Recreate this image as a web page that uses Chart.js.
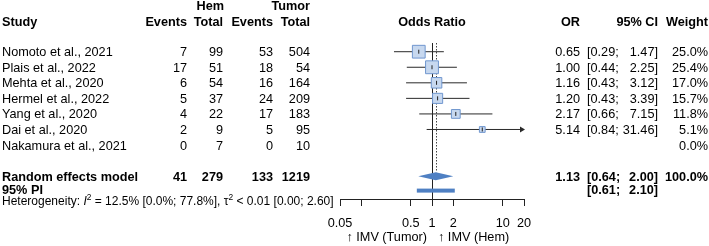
<!DOCTYPE html>
<html>
<head>
<meta charset="utf-8">
<script src="https://cdn.jsdelivr.net/npm/chart.js@4.4.1/dist/chart.umd.min.js"></script>
<style>
  html, body { margin: 0; padding: 0; background: #fff; }
  #wrap { width: 709px; height: 246px; }
</style>
</head>
<body>
<div id="wrap"><canvas id="forestPlot"></canvas></div>
<script>
// study level data
const studies = ['Nomoto et al., 2021', 'Plais et al., 2022', 'Mehta et al., 2020', 'Hermel et al., 2022',
                 'Yang et al., 2020', 'Dai et al., 2020', 'Nakamura et al., 2021'];
const hemEvents = [7, 17, 6, 5, 4, 2, 0];
const hemTotal = [99, 51, 54, 37, 22, 9, 7];
const tumorEvents = [53, 18, 16, 24, 17, 5, 0];
const tumorTotal = [504, 54, 164, 209, 183, 95, 10];
const oddsRatios = [0.65, 1.00, 1.16, 1.20, 2.17, 5.14, null];
const ciLower = [0.29, 0.44, 0.43, 0.43, 0.66, 0.84, null];
const ciUpper = [1.47, 2.25, 3.12, 3.39, 7.15, 31.46, null];
const weights = [25.0, 25.4, 17.0, 15.7, 11.8, 5.1, 0.0];

// pooled estimate
const pooledTotals = [41, 279, 133, 1219];
const pooledOR = 1.13;
const pooledCI = [0.64, 2.00];
const predInterval = [0.61, 2.10];

// axis
const tickValues = [0.05, 0.1, 0.5, 1, 2, 10, 20];
const tickLabels = ['0.05', '', '0.5', '1', '2', '10', '20'];

const FONT = '"Liberation Sans", Arial, Helvetica, sans-serif';
const FS = 12.7;
const pooledRow = 8;
const piRow = 8.93;
const boxFill = '#c7d8ef';
const boxLine = '#7097cf';
const blue = '#4f80c3';

const fmt2 = v => v.toFixed(2);

const boxPoints = [];
const boxRadii = [];
oddsRatios.forEach((v, i) => {
    if (v === null) return;
    boxPoints.push({ x: v, y: i });
    boxRadii.push(2.55 * Math.sqrt(weights[i]) / Math.SQRT2);
});

const forestPlugin = {
    id: 'forest',
    beforeDatasetsDraw(chart) {
        const { ctx, chartArea, scales: { x, y } } = chart;
        ctx.save();
        // line of no effect
        ctx.strokeStyle = '#222';
        ctx.lineWidth = 1;
        ctx.beginPath();
        ctx.moveTo(Math.round(x.getPixelForValue(1)) + 0.5, chartArea.top);
        ctx.lineTo(Math.round(x.getPixelForValue(1)) + 0.5, chartArea.bottom);
        ctx.stroke();
        // pooled estimate dotted line
        ctx.setLineDash([1.5, 1.5]);
        ctx.strokeStyle = '#444';
        ctx.beginPath();
        ctx.moveTo(Math.round(x.getPixelForValue(pooledOR)) + 0.5, chartArea.top);
        ctx.lineTo(Math.round(x.getPixelForValue(pooledOR)) + 0.5, y.getPixelForValue(pooledRow) - 4);
        ctx.stroke();
        ctx.setLineDash([]);
        // confidence intervals
        ctx.strokeStyle = '#2a2a2a';
        ctx.fillStyle = '#2a2a2a';
        oddsRatios.forEach((v, i) => {
            if (v === null) return;
            const py = y.getPixelForValue(i);
            const lo = Math.max(ciLower[i], x.min);
            const hi = Math.min(ciUpper[i], x.max);
            const x0 = x.getPixelForValue(lo);
            const x1 = x.getPixelForValue(hi);
            ctx.beginPath();
            ctx.moveTo(x0, py);
            ctx.lineTo(x1, py);
            ctx.stroke();
            if (ciUpper[i] > x.max) {
                ctx.beginPath();
                ctx.moveTo(x1 + 1, py);
                ctx.lineTo(x1 - 4, py - 3);
                ctx.lineTo(x1 - 4, py + 3);
                ctx.closePath();
                ctx.fill();
            }
        });
        ctx.restore();
    },
    afterDatasetsDraw(chart) {
        const { ctx, scales: { x, y } } = chart;
        ctx.save();
        // point estimate marks inside boxes
        ctx.strokeStyle = '#222';
        ctx.lineWidth = 1;
        oddsRatios.forEach((v, i) => {
            if (v === null) return;
            const px = x.getPixelForValue(v);
            const py = y.getPixelForValue(i);
            ctx.beginPath();
            ctx.moveTo(px, py - 2);
            ctx.lineTo(px, py + 2);
            ctx.stroke();
        });
        // diamond
        const dy = y.getPixelForValue(pooledRow);
        ctx.fillStyle = blue;
        ctx.beginPath();
        ctx.moveTo(x.getPixelForValue(pooledCI[0]), dy);
        ctx.lineTo(x.getPixelForValue(pooledOR), dy - 4);
        ctx.lineTo(x.getPixelForValue(pooledCI[1]), dy);
        ctx.lineTo(x.getPixelForValue(pooledOR), dy + 4);
        ctx.closePath();
        ctx.fill();
        // prediction interval
        const py = y.getPixelForValue(piRow);
        const p0 = x.getPixelForValue(predInterval[0]);
        const p1 = x.getPixelForValue(predInterval[1]);
        ctx.fillRect(p0, py - 2, p1 - p0, 4);
        ctx.restore();
    },
    afterDraw(chart) {
        const { ctx, scales: { x, y } } = chart;
        const base = row => y.getPixelForValue(row) + 4.5;
        const put = (s, px, py, align, bold, size) => {
            ctx.font = (bold ? 'bold ' : '') + (size || FS) + 'px ' + FONT;
            ctx.textAlign = align;
            ctx.fillText(s, px, py);
        };
        ctx.save();
        ctx.fillStyle = '#000';
        ctx.textBaseline = 'alphabetic';

        // headers
        put('Hem', 224, 10, 'right', true);
        put('Tumor', 310, 10, 'right', true);
        put('Study', 2, 26, 'left', true);
        put('Events', 187, 26, 'right', true);
        put('Total', 223, 26, 'right', true);
        put('Events', 273, 26, 'right', true);
        put('Total', 310, 26, 'right', true);
        put('Odds Ratio', (chart.chartArea.left + chart.chartArea.right) / 2, 26, 'center', true);
        put('OR', 580, 26, 'right', true);
        put('95% CI', 658, 26, 'right', true);
        put('Weight', 708, 26, 'right', true);

        // study rows
        studies.forEach((name, i) => {
            const by = base(i);
            put(name, 2, by, 'left');
            put(String(hemEvents[i]), 187, by, 'right');
            put(String(hemTotal[i]), 223, by, 'right');
            put(String(tumorEvents[i]), 273, by, 'right');
            put(String(tumorTotal[i]), 310, by, 'right');
            if (oddsRatios[i] !== null) {
                put(fmt2(oddsRatios[i]), 580, by, 'right');
                put('[' + fmt2(ciLower[i]) + ';', 587, by, 'left');
                put(fmt2(ciUpper[i]) + ']', 658, by, 'right');
            }
            put(weights[i].toFixed(1) + '%', 708, by, 'right');
        });

        // pooled row
        let by = base(pooledRow);
        put('Random effects model', 2, by, 'left', true);
        put(String(pooledTotals[0]), 187, by, 'right', true);
        put(String(pooledTotals[1]), 223, by, 'right', true);
        put(String(pooledTotals[2]), 273, by, 'right', true);
        put(String(pooledTotals[3]), 310, by, 'right', true);
        put(fmt2(pooledOR), 580, by, 'right', true);
        put('[' + fmt2(pooledCI[0]) + ';', 587, by, 'left', true);
        put(fmt2(pooledCI[1]) + ']', 658, by, 'right', true);
        put('100.0%', 708, by, 'right', true);

        by = base(piRow) - 1;
        put('95% PI', 2, by, 'left', true);
        put('[' + fmt2(predInterval[0]) + ';', 587, by, 'left', true);
        put(fmt2(predInterval[1]) + ']', 658, by, 'right', true);

        // heterogeneity
        const hs = 12.0;
        let hx = 2;
        const hy = 204.5;
        const seg = (s, style, size, rise) => {
            ctx.font = (style || '') + ' ' + size + 'px ' + FONT;
            ctx.textAlign = 'left';
            ctx.fillText(s, hx, hy - (rise || 0));
            hx += ctx.measureText(s).width;
        };
        seg('Heterogeneity: ', '', hs);
        seg('I', 'italic', hs);
        seg('2', '', hs * 0.7, 4.5);
        seg(' = 12.5% [0.0%; 77.8%], \u03c4', '', hs);
        seg('2', '', hs * 0.7, 4.5);
        seg(' < 0.01 [0.00; 2.60]', '', hs);

        // direction labels
        const x1 = x.getPixelForValue(1);
        put('\u2191 IMV (Tumor)', x1 - 5, 240.5, 'right');
        put('\u2191 IMV (Hem)', x1 + 6, 240.5, 'left');
        ctx.restore();
    }
};

new Chart(document.getElementById('forestPlot').getContext('2d'), {
    type: 'scatter',
    data: {
        datasets: [{
            data: boxPoints,
            pointStyle: 'rect',
            pointRadius: boxRadii,
            pointHoverRadius: boxRadii,
            backgroundColor: boxFill,
            borderColor: boxLine,
            borderWidth: 1
        }]
    },
    options: {
        responsive: true,
        maintainAspectRatio: false,
        animation: false,
        events: [],
        layout: { padding: { left: 340, right: 185, top: 43, bottom: 0 } },
        plugins: { legend: { display: false }, tooltip: { enabled: false } },
        scales: {
            x: {
                type: 'logarithmic',
                min: 0.05,
                max: 20,
                afterBuildTicks: scale => { scale.ticks = tickValues.map(v => ({ value: v })); },
                afterFit: scale => { scale.height = 47; },
                grid: { drawOnChartArea: false, drawTicks: true, tickLength: 7, color: '#222', lineWidth: 1 },
                border: { display: true, color: '#222', width: 1 },
                ticks: {
                    autoSkip: false,
                    maxRotation: 0,
                    padding: 10,
                    color: '#000',
                    font: { family: FONT, size: FS },
                    callback: (value, index) => tickLabels[index]
                }
            },
            y: { type: 'linear', display: false, reverse: true, min: -0.56, max: 9.47 }
        }
    },
    plugins: [forestPlugin]
});
</script>
</body>
</html>
